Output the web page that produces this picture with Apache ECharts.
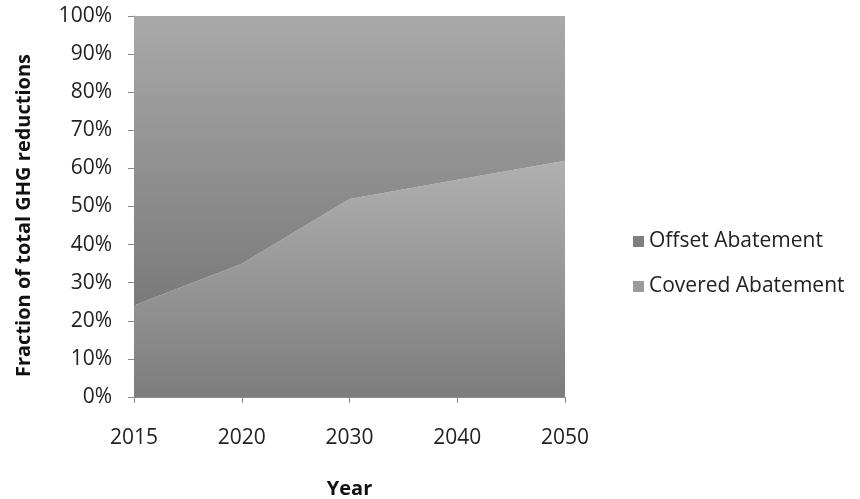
<!DOCTYPE html>
<html>
<head>
<meta charset="utf-8">
<script src="https://cdn.jsdelivr.net/npm/echarts@6/dist/echarts.min.js"></script>
<style>
  html, body { margin: 0; padding: 0; background: #fff; }
  #chart { width: 860px; height: 499px; }
</style>
</head>
<body>
<div id="chart"></div>
<script>
// Share of total GHG reductions by abatement type (stacked to 100%)
const years = ['2015', '2020', '2030', '2040', '2050'];
const coveredAbatement = [24, 35, 52, 57, 62];
const offsetAbatement = [76, 65, 48, 43, 38];
const yTicks = [0, 10, 20, 30, 40, 50, 60, 70, 80, 90, 100];

const font = '"Open Sans", "DejaVu Sans", sans-serif';

function vGrad(top, bottom) {
  return new echarts.graphic.LinearGradient(0, 0, 0, 1, [
    { offset: 0, color: top },
    { offset: 1, color: bottom }
  ]);
}

const chart = echarts.init(document.getElementById('chart'), null, { renderer: 'canvas' });
chart.setOption({
  animation: false,
  backgroundColor: '#ffffff',
  grid: { left: 134, right: 295, top: 16, bottom: 102, outerBoundsMode: 'none', containLabel: false },
  legend: {
    orient: 'vertical',
    left: 628,
    top: 226,
    itemGap: 24,
    itemWidth: 11,
    itemHeight: 11,
    icon: 'rect',
    textStyle: { fontFamily: font, fontSize: 21, color: '#222' },
    data: [
      { name: 'Offset Abatement', itemStyle: { color: '#7f7f7f' } },
      { name: 'Covered Abatement', itemStyle: { color: '#9a9a9a' } }
    ]
  },
  xAxis: {
    type: 'category',
    data: years,
    boundaryGap: false,
    name: 'Year',
    nameLocation: 'middle',
    nameGap: 82,
    nameTextStyle: { fontFamily: font, fontSize: 20, fontWeight: 'bold', color: '#111' },
    axisLine: { show: true, lineStyle: { color: '#8a8a8a', width: 1 } },
    axisTick: { show: true, alignWithLabel: true, length: 6, lineStyle: { color: '#8a8a8a' } },
    axisLabel: { fontFamily: font, fontSize: 21, color: '#222', margin: 31 },
    splitLine: { show: false }
  },
  yAxis: {
    type: 'value',
    min: yTicks[0],
    max: yTicks[yTicks.length - 1],
    interval: yTicks[1] - yTicks[0],
    name: 'Fraction of total GHG reductions',
    nameLocation: 'middle',
    nameGap: 100,
    nameTextStyle: { fontFamily: font, fontSize: 20, fontWeight: 'bold', color: '#111', padding: [0, 18, 0, 0] },
    axisLine: { show: true, lineStyle: { color: '#8a8a8a', width: 1 } },
    axisTick: { show: true, length: 6, lineStyle: { color: '#8a8a8a' } },
    axisLabel: { fontFamily: font, fontSize: 21, color: '#222', margin: 22, formatter: '{value}%' },
    splitLine: { show: false }
  },
  series: [
    {
      name: 'Covered Abatement',
      type: 'line',
      stack: 'total',
      data: coveredAbatement,
      symbol: 'none',
      lineStyle: { width: 0 },
      itemStyle: { color: '#9a9a9a' },
      areaStyle: { color: vGrad('#b0b0b0', '#7d7d7d'), opacity: 1 },
      z: 2
    },
    {
      name: 'Offset Abatement',
      type: 'line',
      stack: 'total',
      data: offsetAbatement,
      symbol: 'none',
      lineStyle: { width: 0 },
      itemStyle: { color: '#7f7f7f' },
      areaStyle: { color: vGrad('#a9a9a9', '#7a7a7a'), opacity: 1 },
      z: 2
    }
  ]
});
</script>
</body>
</html>
